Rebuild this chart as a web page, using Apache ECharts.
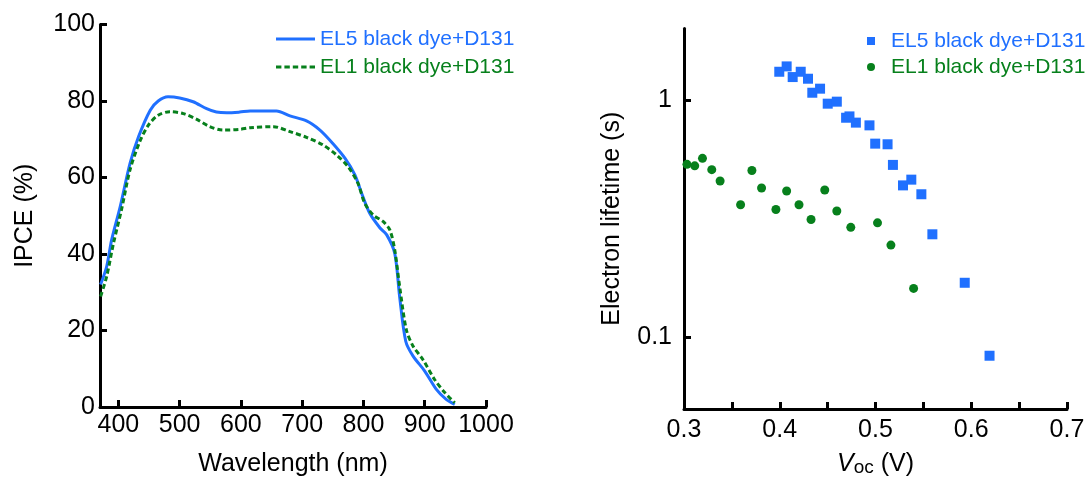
<!DOCTYPE html>
<html><head><meta charset="utf-8">
<script src="https://cdn.jsdelivr.net/npm/echarts@6/dist/echarts.min.js"></script>
<style>html,body{margin:0;padding:0;background:#fff}#c{width:1089px;height:482px}</style>
</head><body><div id="c"></div>
<script>
// ---------- data ----------
const seriesNames = ['EL5 black dye+D131', 'EL1 black dye+D131'];

// IPCE spectra (left panel)
const el5Wavelength = [371,381,389,403,419,433,452,465,481,500,522,544,560,577,598,615,658,680,707,729,750,770,786,797,810,827,838,851,859,869,881,900,919,935,949];
const el5IPCE       = [32.0,36.8,43.7,52.4,63.7,70.7,77.6,80.0,81.1,80.8,79.8,78.0,77.1,76.9,77.1,77.4,77.4,76.1,74.8,72.4,68.9,65.0,60.7,55.9,50.7,46.8,45.0,40.2,28.9,17.2,13.3,9.4,4.6,2.0,0.7];
const el1Wavelength = [371,381,392,405,419,435,449,465,484,506,528,549,571,598,615,653,680,707,734,756,775,791,802,816,832,843,851,859,870,881,897,916,933,949];
const el1IPCE       = [28.9,34.2,42.8,51.5,62.0,69.4,73.7,76.3,77.2,76.7,75.2,73.3,72.4,72.6,73.0,73.3,72.0,70.5,68.5,65.9,62.8,58.5,53.3,50.2,48.5,46.3,41.1,31.6,20.2,15.9,12.4,7.2,3.7,1.1];

// Electron lifetime vs Voc (right panel)
const el5Voc      = [0.3995,0.4072,0.4135,0.4219,0.4295,0.434,0.4421,0.4501,0.4596,0.4693,0.4728,0.4795,0.4937,0.4997,0.5126,0.5182,0.5287,0.5374,0.5479,0.5594,0.5932,0.6191];
const el5Lifetime = [1.315,1.385,1.249,1.315,1.229,1.073,1.116,0.965,0.984,0.842,0.853,0.803,0.782,0.655,0.651,0.533,0.437,0.462,0.401,0.272,0.170,0.0838];
const el1Voc      = [0.3031,0.3112,0.3193,0.329,0.3377,0.3591,0.3709,0.381,0.396,0.4072,0.4201,0.4327,0.447,0.4596,0.4742,0.5021,0.5161,0.5398];
const el1Lifetime = [0.536,0.528,0.568,0.509,0.456,0.362,0.505,0.426,0.346,0.414,0.362,0.314,0.418,0.341,0.291,0.304,0.245,0.161];

// tick labels
const wavelengthTicks = [400,500,600,700,800,900,1000];
const vocTicks = [0.3,0.4,0.5,0.6,0.7];
const lifetimeTicks = [0.1,1];

// ---------- style ----------
const BLUE = '#2070ff';
const GREEN = '#07801c';
const FONT = '"Liberation Sans", Arial, Helvetica, sans-serif';
const zip = (a, b) => a.map((v, i) => [v, b[i]]);

// legend icon shapes
const ICON_SOLID = 'path://M0 0H39V3H0Z';
const ICON_DASH = 'path://M0 0H5.4V3H0Z M8.4 0H13.8V3H8.4Z M16.8 0H22.2V3H16.8Z M25.2 0H30.6V3H25.2Z M33.6 0H39V3H33.6Z';
const ICON_SQUARE = 'path://M0 0H10V10H0Z';

const axisLineStyle = { show: true, onZero: false, lineStyle: { color: '#000', width: 3 } };
const tickStyle = { show: true, inside: true, length: 7, lineStyle: { color: '#000', width: 3 } };
const labelBase = { color: '#000', fontSize: 25, fontFamily: FONT };
const nameStyle = { color: '#000', fontSize: 25, fontFamily: FONT };

const chart = echarts.init(document.getElementById('c'), null, { renderer: 'canvas' });
chart.setOption({
  animation: false,
  backgroundColor: '#fff',
  grid: [
    { left: 100, right: 603, top: 24.5, bottom: 72.5 },
    { left: 684, right: 22, top: 28.5, bottom: 72 }
  ],
  legend: [
    {
      orient: 'vertical', left: 276, top: 28.5, padding: 0, itemWidth: 39, itemHeight: 14, itemGap: 7,
      selectedMode: false, symbolKeepAspect: true,
      textStyle: { fontSize: 21, fontFamily: FONT },
      data: [
        { name: seriesNames[0], icon: ICON_SOLID, itemStyle: { color: BLUE, borderWidth: 0 }, textStyle: { color: BLUE } },
        { name: seriesNames[1], icon: ICON_DASH, itemStyle: { color: GREEN, borderWidth: 0 }, textStyle: { color: GREEN } }
      ]
    },
    {
      orient: 'vertical', left: 867, top: 30.5, padding: 0, itemWidth: 30, itemHeight: 8, itemGap: 5,
      selectedMode: false, symbolKeepAspect: true,
      textStyle: { fontSize: 21, fontFamily: FONT },
      data: [
        { name: seriesNames[0], icon: ICON_SQUARE, itemStyle: { color: BLUE, borderWidth: 0 }, textStyle: { color: BLUE } },
        { name: seriesNames[1], icon: 'circle', itemStyle: { color: GREEN, borderWidth: 0 }, textStyle: { color: GREEN } }
      ]
    }
  ],
  xAxis: [
    {
      gridIndex: 0, type: 'value', min: 370, max: 1000,
      axisLine: axisLineStyle,
      axisTick: Object.assign({}, tickStyle, { customValues: wavelengthTicks }),
      axisLabel: Object.assign({}, labelBase, { margin: 6, customValues: wavelengthTicks, formatter: v => String(Math.round(v)) }),
      splitLine: { show: false },
      name: 'Wavelength (nm)', nameLocation: 'middle', nameGap: 45, nameTextStyle: nameStyle
    },
    {
      gridIndex: 1, type: 'value', min: 0.3, max: 0.7, interval: 0.05,
      axisLine: axisLineStyle,
      axisTick: tickStyle,
      axisLabel: Object.assign({}, labelBase, { margin: 9, customValues: vocTicks, formatter: v => Number(v).toFixed(1) }),
      splitLine: { show: false },
      name: '{i|V}{s|oc}{n| (V)}', nameLocation: 'middle', nameGap: 42,
      nameTextStyle: Object.assign({}, nameStyle, {
        rich: {
          i: { fontSize: 25, fontStyle: 'italic', fontFamily: FONT, color: '#000', lineHeight: 26, verticalAlign: 'bottom' },
          s: { fontSize: 19, fontFamily: FONT, color: '#000', lineHeight: 19, verticalAlign: 'bottom' },
          n: { fontSize: 25, fontFamily: FONT, color: '#000', lineHeight: 26, verticalAlign: 'bottom' }
        }
      })
    }
  ],
  yAxis: [
    {
      gridIndex: 0, type: 'value', min: 0, max: 100, interval: 20,
      axisLine: axisLineStyle,
      axisTick: tickStyle,
      axisLabel: Object.assign({}, labelBase, { margin: 5 }),
      splitLine: { show: false },
      name: 'IPCE (%)', nameLocation: 'middle', nameGap: 62, nameTextStyle: nameStyle
    },
    {
      gridIndex: 1, type: 'log', logBase: 10, min: 0.05, max: 2,
      axisLine: axisLineStyle,
      axisTick: Object.assign({}, tickStyle, { customValues: lifetimeTicks }),
      axisLabel: Object.assign({}, labelBase, { margin: 12, customValues: lifetimeTicks, formatter: v => String(+Number(v).toPrecision(3)) }),
      splitLine: { show: false },
      name: 'Electron lifetime (s)', nameLocation: 'middle', nameGap: 59, nameTextStyle: nameStyle
    }
  ],
  series: [
    {
      name: seriesNames[0], type: 'line', xAxisIndex: 0, yAxisIndex: 0,
      data: zip(el5Wavelength, el5IPCE), symbol: 'none', showSymbol: false, smooth: 0.3,
      lineStyle: { color: BLUE, width: 3 }, itemStyle: { color: BLUE }, z: 3
    },
    {
      name: seriesNames[1], type: 'line', xAxisIndex: 0, yAxisIndex: 0,
      data: zip(el1Wavelength, el1IPCE), symbol: 'none', showSymbol: false, smooth: 0.3,
      lineStyle: { color: GREEN, width: 3, type: [5, 3] }, itemStyle: { color: GREEN }, z: 4
    },
    {
      name: seriesNames[0], type: 'scatter', xAxisIndex: 1, yAxisIndex: 1,
      data: zip(el5Voc, el5Lifetime), symbol: 'rect', symbolSize: 10,
      itemStyle: { color: BLUE, opacity: 1 }
    },
    {
      name: seriesNames[1], type: 'scatter', xAxisIndex: 1, yAxisIndex: 1,
      data: zip(el1Voc, el1Lifetime), symbol: 'circle', symbolSize: 9,
      itemStyle: { color: GREEN, opacity: 1 }
    }
  ]
});
</script>
</body></html>
